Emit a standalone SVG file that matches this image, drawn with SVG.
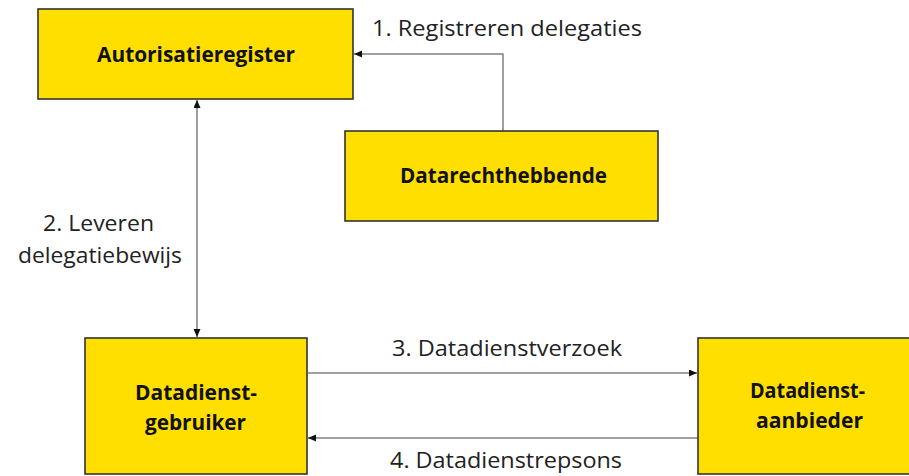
<svg xmlns="http://www.w3.org/2000/svg" width="909" height="476" viewBox="0 0 909 476">
  <style>
    .box { fill: #FFDF00; stroke: #333333; stroke-width: 1.6; }
    .nt { font-family: "Open Sans", "Liberation Sans", sans-serif; font-weight: bold; font-size: 22px; fill: #111111; text-anchor: middle; }
    .nt2 { font-size: 21.5px; }
    .lt { font-family: "Open Sans", "Liberation Sans", sans-serif; font-size: 22px; fill: #222222; text-anchor: middle; }
    .conn { fill: none; stroke: #808080; stroke-width: 1.5; }
  </style>
  <defs>
    <marker id="arr" markerUnits="userSpaceOnUse" markerWidth="9" markerHeight="8" refX="8" refY="3.5" orient="auto-start-reverse">
      <path d="M0,0 L8,3.5 L0,7 z" fill="#111111"/>
    </marker>
  </defs>
  <rect width="909" height="476" fill="#ffffff"/>

  <g id="connectors">
    <polyline class="conn" points="503,131 503,54 354,54" marker-end="url(#arr)"/>
    <line class="conn" x1="197" y1="100" x2="197" y2="337" marker-start="url(#arr)" marker-end="url(#arr)"/>
    <line class="conn" x1="308" y1="373" x2="697" y2="373" marker-end="url(#arr)"/>
    <line class="conn" x1="698" y1="438" x2="308" y2="438" marker-end="url(#arr)"/>
    <text class="lt" x="507" y="36" textLength="270" lengthAdjust="spacingAndGlyphs">1. Registreren delegaties</text>
    <text class="lt" x="98.5" y="231" textLength="111" lengthAdjust="spacingAndGlyphs">2. Leveren</text>
    <text class="lt" x="100" y="263" textLength="164" lengthAdjust="spacingAndGlyphs">delegatiebewijs</text>
    <text class="lt" x="507" y="356" textLength="230" lengthAdjust="spacingAndGlyphs">3. Datadienstverzoek</text>
    <text class="lt" x="506" y="468" textLength="232" lengthAdjust="spacingAndGlyphs">4. Datadienstrepsons</text>
  </g>

  <g id="autorisatieregister">
    <rect class="box" x="38" y="9" width="315" height="90"/>
    <text class="nt" x="196" y="62" textLength="198" lengthAdjust="spacingAndGlyphs">Autorisatieregister</text>
  </g>

  <g id="datarechthebbende">
    <rect class="box" x="345" y="131" width="313" height="90"/>
    <text class="nt" x="503.5" y="183" textLength="207" lengthAdjust="spacingAndGlyphs">Datarechthebbende</text>
  </g>

  <g id="datadienstgebruiker">
    <rect class="box" x="85" y="338" width="222" height="136"/>
    <text class="nt nt2" x="196" y="400" textLength="122" lengthAdjust="spacingAndGlyphs">Datadienst-</text>
    <text class="nt nt2" x="195.5" y="430" textLength="101" lengthAdjust="spacingAndGlyphs">gebruiker</text>
  </g>

  <g id="datadienstaanbieder">
    <rect class="box" x="698" y="338" width="230" height="136"/>
    <text class="nt nt2" x="807.5" y="398" textLength="115" lengthAdjust="spacingAndGlyphs">Datadienst-</text>
    <text class="nt nt2" x="809.5" y="428" textLength="107" lengthAdjust="spacingAndGlyphs">aanbieder</text>
  </g>
</svg>
